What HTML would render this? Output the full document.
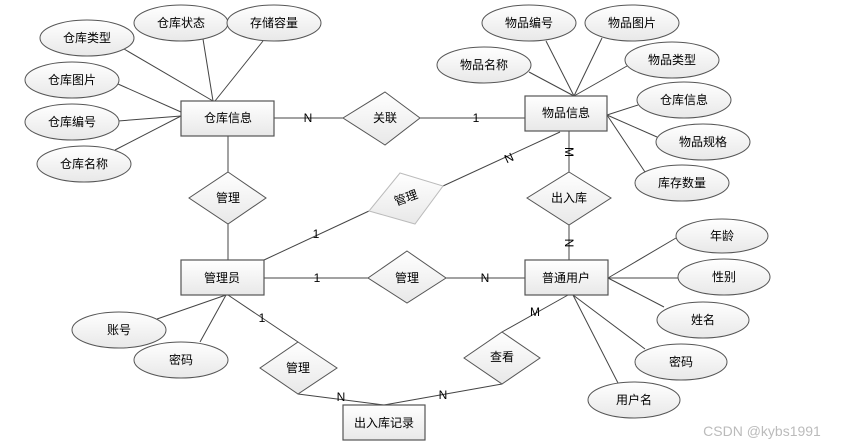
<!DOCTYPE html>
<html><head><meta charset="utf-8"><style>
html,body{margin:0;padding:0;background:#fff;}
svg{display:block;font-family:"Liberation Sans","Noto Sans CJK SC",sans-serif;}
text{font-size:12px;fill:#000;text-anchor:middle;dominant-baseline:central;}
.l{stroke:#444;stroke-width:1;fill:none;}
.e{fill:url(#g);stroke:#555;stroke-width:1;}
.r{fill:url(#g);stroke:#555;stroke-width:1.2;}
</style></head><body>
<svg width="841" height="447" viewBox="0 0 841 447">
<defs><linearGradient id="g" x1="0" y1="0" x2="0" y2="1"><stop offset="0" stop-color="#fff"/><stop offset="1" stop-color="#e8e8e8"/></linearGradient></defs>
<!-- lines -->
<g class="l">
<line x1="124" y1="49" x2="213" y2="101"/><line x1="203" y1="39" x2="213" y2="101"/><line x1="263" y1="41" x2="215" y2="101"/>
<line x1="118" y1="84" x2="181" y2="112"/><line x1="118" y1="121" x2="181" y2="116"/><line x1="115" y1="150" x2="181" y2="116"/>
<line x1="274" y1="118" x2="343" y2="118"/><line x1="420" y1="118" x2="525" y2="118"/>
<line x1="228" y1="136" x2="228" y2="172"/><line x1="228" y1="224" x2="228" y2="260"/>
<line x1="529" y1="72" x2="574" y2="96"/><line x1="546" y1="41" x2="574" y2="96"/><line x1="602" y1="38" x2="574" y2="96"/><line x1="627" y1="66" x2="574" y2="96"/>
<line x1="638" y1="105" x2="607" y2="115"/><line x1="657" y1="137" x2="607" y2="115"/><line x1="645" y1="172" x2="607" y2="115"/>
<line x1="569" y1="131" x2="569" y2="172"/><line x1="569" y1="225" x2="569" y2="260"/>
<line x1="560" y1="132" x2="443" y2="186"/><line x1="369" y1="211" x2="264" y2="260"/>
<line x1="264" y1="278" x2="368" y2="278"/><line x1="446" y1="278" x2="525" y2="278"/>
<line x1="608" y1="278" x2="676" y2="238"/><line x1="608" y1="278" x2="678" y2="278"/><line x1="608" y1="278" x2="664" y2="307"/>
<line x1="573" y1="295" x2="645" y2="349"/><line x1="573" y1="295" x2="618" y2="383"/>
<line x1="226" y1="295" x2="157" y2="319"/><line x1="226" y1="295" x2="200" y2="342"/>
<line x1="228" y1="295" x2="298" y2="342"/><line x1="298" y1="394" x2="384" y2="405"/>
<line x1="568" y1="295" x2="502" y2="332"/><line x1="502" y1="384" x2="384" y2="405"/>
</g>
<!-- ellipses -->
<g class="e">
<ellipse cx="87" cy="38" rx="47" ry="18"/><ellipse cx="181" cy="23" rx="47" ry="18"/><ellipse cx="274" cy="23" rx="47" ry="18"/>
<ellipse cx="72" cy="80" rx="47" ry="18"/><ellipse cx="72" cy="122" rx="47" ry="18"/><ellipse cx="84" cy="164" rx="47" ry="18"/>
<ellipse cx="529" cy="23" rx="47" ry="18"/><ellipse cx="632" cy="23" rx="47" ry="18"/><ellipse cx="484" cy="65" rx="47" ry="18"/>
<ellipse cx="672" cy="60" rx="47" ry="18"/><ellipse cx="684" cy="100" rx="47" ry="18"/><ellipse cx="703" cy="142" rx="47" ry="18"/><ellipse cx="682" cy="183" rx="47" ry="18"/>
<ellipse cx="722" cy="236" rx="46" ry="17"/><ellipse cx="724" cy="277" rx="46" ry="18"/><ellipse cx="703" cy="320" rx="46" ry="18"/>
<ellipse cx="681" cy="362" rx="46" ry="18"/><ellipse cx="634" cy="400" rx="46" ry="18"/>
<ellipse cx="119" cy="330" rx="47" ry="18"/><ellipse cx="181" cy="360" rx="47" ry="18"/>
</g>
<!-- rects -->
<g class="r">
<rect x="181" y="101" width="93" height="35"/><rect x="525" y="96" width="82" height="35"/>
<rect x="181" y="260" width="83" height="35"/><rect x="525" y="260" width="83" height="35"/><rect x="343" y="405" width="82" height="35"/>
</g>
<!-- diamonds -->
<g class="e">
<polygon points="385,92 420,118 385,145 343,118"/>
<polygon points="228,172 266,198 228,224 189,198"/>
<polygon points="569,172 611,198 569,225 527,198"/>
<polygon points="407,251 446,278 407,303 368,278"/>
<polygon points="298,342 337,368 298,394 260,368"/>
<polygon points="502,332 540,358 502,384 464,358"/>
<polygon points="400,173 443,186 415,224 369,211" style="stroke:#bbb"/>
</g>
<!-- labels -->
<text x="87" y="38">仓库类型</text><text x="181" y="23">仓库状态</text><text x="274" y="23">存储容量</text>
<text x="72" y="80">仓库图片</text><text x="72" y="122">仓库编号</text><text x="84" y="164">仓库名称</text>
<text x="529" y="23">物品编号</text><text x="632" y="23">物品图片</text><text x="484" y="65">物品名称</text>
<text x="672" y="60">物品类型</text><text x="684" y="100">仓库信息</text><text x="703" y="142">物品规格</text><text x="682" y="183">库存数量</text>
<text x="722" y="236">年龄</text><text x="724" y="277">性别</text><text x="703" y="320">姓名</text><text x="681" y="362">密码</text><text x="634" y="400">用户名</text>
<text x="119" y="330">账号</text><text x="181" y="360">密码</text>
<text x="228" y="118">仓库信息</text><text x="566" y="113">物品信息</text><text x="222" y="278">管理员</text><text x="566" y="278">普通用户</text><text x="384" y="423">出入库记录</text>
<text x="385" y="118">关联</text><text x="228" y="198">管理</text><text x="569" y="198">出入库</text><text x="407" y="278">管理</text>
<text x="298" y="368">管理</text><text x="502" y="357">查看</text>
<text x="406" y="198" transform="rotate(-20 406 198)">管理</text>
<text x="308" y="118">N</text><text x="476" y="118">1</text>
<text x="509" y="158" transform="rotate(-25 509 158)">N</text><text x="569" y="152" transform="rotate(90 569 152)">M</text>
<text x="569" y="243" transform="rotate(90 569 243)">N</text>
<text x="316" y="234">1</text><text x="317" y="278">1</text><text x="485" y="278">N</text>
<text x="262" y="318">1</text><text x="341" y="397">N</text><text x="443" y="395">N</text><text x="535" y="312">M</text>
<text x="762" y="431" style="fill:#bbb;font-size:14px">CSDN @kybs1991</text>
</svg>
</body></html>
